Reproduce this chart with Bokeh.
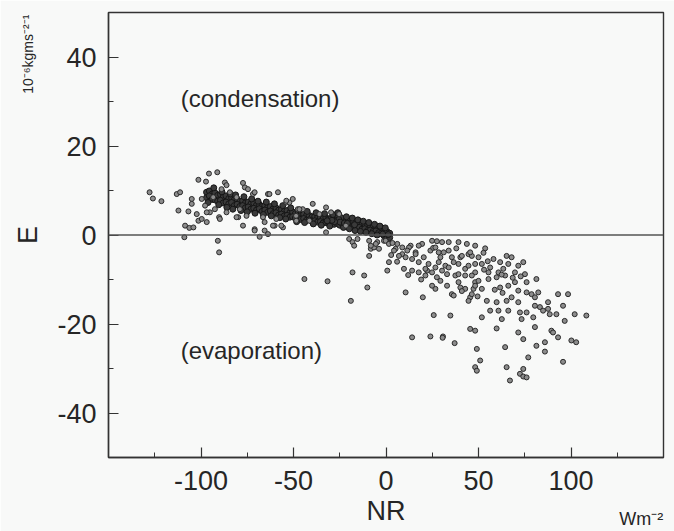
import math
from bokeh.plotting import figure
from bokeh.models import FixedTicker, Span, Label, LinearAxis
from bokeh.embed import file_html
from bokeh.resources import INLINE

# ---- data (NR in W m^-2, E in 10^-6 kg m^-2 s^-1) ----
# dense band of points (x<0), upper and lower edges of the band
nr_band = [-97.0, -95.5, -94.0, -92.5, -91.0, -89.5, -88.0, -86.5, -85.0, -83.5,
           -82.0, -80.5, -79.0, -77.5, -76.0, -74.5, -73.0, -71.5, -70.0, -68.5,
           -67.0, -65.5, -64.0, -62.5, -61.0, -59.5, -58.0, -56.5, -55.0, -53.5,
           -52.0, -50.5, -49.0, -47.5, -46.0, -44.5, -43.0, -41.5, -40.0, -38.5,
           -37.0, -35.5, -34.0, -32.5, -31.0, -29.5, -28.0, -26.5, -25.0, -23.5,
           -22.0, -20.5, -19.0, -17.5, -16.0, -14.5, -13.0, -11.5, -10.0, -8.5,
           -7.0, -5.5, -4.0, -2.5, -1.0, 0.5, 2.0]
e_band_hi = [9.6, 9.9, 9.2, 9.5, 8.9, 9.1, 8.5, 8.8, 8.2, 8.4,
             7.9, 8.1, 7.5, 7.7, 7.2, 7.4, 7.0, 7.2, 6.7, 6.9,
             6.4, 6.6, 6.2, 6.4, 5.9, 6.1, 5.6, 5.8, 5.3, 5.5,
             5.0, 5.2, 4.8, 4.9, 4.5, 4.7, 4.3, 4.4, 4.1, 4.2,
             3.9, 4.0, 3.7, 3.9, 3.6, 3.8, 3.5, 4.2, 3.4, 3.6,
             3.1, 3.3, 2.8, 3.0, 2.6, 2.8, 2.4, 2.5, 2.1, 2.2,
             1.8, 1.9, 1.5, 1.6, 1.2, 0.8, 0.4]
e_band_lo = [8.4, 8.8, 8.0, 7.9, 7.6, 7.8, 7.2, 7.4, 7.0, 7.3,
             6.6, 6.9, 6.4, 6.6, 6.1, 6.3, 5.8, 6.0, 5.6, 5.9,
             5.3, 5.6, 5.1, 5.4, 4.8, 5.0, 4.5, 4.7, 4.3, 4.4,
             4.0, 4.1, 3.8, 3.9, 3.5, 3.7, 3.3, 3.4, 3.1, 3.2,
             2.9, 3.0, 2.7, 2.8, 2.6, 2.7, 2.4, 2.6, 2.2, 2.4,
             2.0, 2.1, 1.8, 1.9, 1.5, 1.7, 1.3, 1.4, 1.0, 1.1,
             0.8, 0.9, 0.5, 0.4, -0.2, -0.5, -0.6]
# irregular points around the band
nr_band2 = [-96.2, -93.1, -90.4, -88.7, -86.0, -84.1, -82.8, -81.3, -78.4, -76.8,
            -75.0, -72.6, -70.8, -69.2, -66.3, -64.7, -62.0, -60.3, -57.4, -55.8,
            -54.2, -51.5, -48.3, -46.7, -44.0, -42.6, -39.3, -37.8, -35.0, -33.2,
            -30.4, -28.7, -27.2, -26.0, -24.3, -23.0, -21.4, -19.8, -18.2, -16.7,
            -15.2, -13.8, -12.3, -10.8, -9.3, -7.7, -6.2, -4.8, -3.3, -1.8,
            -0.4, 1.2, -25.5, -24.8, -27.8, -22.5, -29.2, -31.8, -20.9, -17.0]
e_band2 = [7.3, 10.6, 6.8, 9.7, 6.2, 9.2, 5.8, 9.0, 5.5, 8.6,
           5.2, 8.1, 4.9, 7.6, 4.6, 7.4, 4.3, 7.0, 3.9, 6.6,
           3.6, 6.1, 3.0, 5.6, 2.8, 5.3, 2.5, 5.0, 2.2, 4.8,
           2.0, 4.6, 3.2, 5.0, 3.9, 1.7, 4.1, 1.4, 3.8, 1.0,
           3.4, 0.8, 3.1, 0.6, 2.8, 0.3, 2.4, 0.0, 2.0, 0.2,
           1.6, 0.1, 3.5, 2.9, 3.0, 2.7, 3.3, 3.2, 2.6, 2.3]

# scattered points, negative NR
nr_scatter = [-127.8, -126.0, -121.4, -113.1, -111.3, -112.2, -108.6, -106.3, -109.0, -101.4,
              -95.7, -91.2, -97.3, -90.9, -90.2, -105.0, -105.0, -106.8, -102.3, -101.4,
              -99.6, -96.9, -104.1, -99.6, -97.8, -93.4, -92.5, -90.2, -95.2, -87.1,
              -88.9, -86.2, -84.4, -80.8, -76.3, -77.3, -74.6, -71.9, -79.0, -79.9,
              -77.3, -71.0, -89.8, -86.2, -75.4, -68.3, -63.8, -58.4, -71.0, -63.0,
              -53.9, -52.2, -65.6, -71.0, -60.2, -55.7, -61.1, -65.6, -63.8, -48.6,
              -45.0, -41.4, -36.0, -29.7, -25.3, -21.7, -32.4, -56.6, -48.5, -50.4,
              -47.7, -59.3, -66.5, -80.8, -96.9, -32.4, -46.8, -39.6, -53.9]
e_scatter = [9.6, 8.2, 7.6, 9.2, 9.6, 5.5, 2.1, 1.6, -0.5, 12.4,
             13.8, 14.1, 12.0, -1.3, -3.9, 8.1, 7.0, 5.3, 4.7, 3.2,
             3.6, 2.9, 1.7, 8.1, 6.6, 8.5, 5.8, 4.0, 5.1, 11.8,
             10.3, 11.2, 9.6, 8.5, 10.7, 11.7, 10.3, 9.2, 5.8, 4.0,
             2.1, 1.3, 3.6, 5.1, 4.3, -0.4, 9.2, 9.6, 9.6, 9.2,
             7.3, 7.3, 2.9, 1.0, 2.1, 1.7, 2.1, 1.0, 0.2, 4.3,
             5.8, 3.2, 4.7, 5.1, 4.7, 2.1, 0.6, 2.1, 3.2, 8.1,
             5.8, 3.6, 4.0, 4.0, 5.1, 6.2, 5.8, 7.0, 7.7]

# negative NR, below zero
nr_neg = [-19.9, -18.1, -15.4, -17.2, -9.1, -8.2, -6.5, -4.7, -18.1, -19.0,
          -44.1, -31.6, -11.8, -10.1, -9.1, -8.2, -5.5, -3.8, -1.1, -0.2]
e_neg = [-0.9, -1.6, -0.9, -2.4, -4.7, -3.1, -2.8, -1.6, -8.4, -14.8,
         -9.9, -10.4, -9.1, -11.8, -1.3, -2.4, -2.0, -3.1, -1.3, -1.3]

# positive NR (evaporation side)
nr_pos = [5.2, 8.8, 10.6, 14.1, 16.0, 13.3, 19.5, 24.9, 30.3, 33.9,
          39.2, 43.7, 24.0, 28.5, 33.9, 17.7, 22.2, 24.9, 21.3, 28.5,
          32.1, 36.6, 40.2, 44.6, 29.4, 33.0, 39.2, 42.8, 48.2, 45.5,
          35.6, 26.7, 30.3, 48.2, 42.8, 48.2, 37.5, 1.6, 0.7, 10.6,
          19.9, 25.8, 34.8, 14.1, 24.0, 30.8, 48.2, 4.3, 7.0, 14.1,
          9.7, 12.4, 20.4, 24.9, 36.6, 40.2, 46.4, 33.9, 39.2, 41.0,
          27.5, 25.5, 31.2, 35.6, 29.4, 26.7, 11.5, 17.7, 39.2, 42.8,
          47.3, 33.0, 26.7, 21.3, 17.7, 6.1, 8.8, 1.6, 44.6, 16.0,
          53.6, 46.4, 44.6, 51.8, 56.3, 61.7, 65.2, 67.9, 63.4, 69.7,
          75.1, 81.3, 46.4, 50.0, 55.4, 59.8, 61.7, 66.1, 69.7, 71.5,
          76.0, 78.7, 82.3, 93.0, 98.4, 49.5, 54.5, 59.8, 65.2, 60.8,
          66.1, 72.4, 73.3, 62.6, 80.5, 83.2, 87.6, 92.1, 95.7, 102.0,
          108.3, 96.6, 51.8, 59.8, 71.5, 74.2, 80.5, 89.4, 93.0, 100.2,
          102.8, 81.3, 85.9, 49.1, 64.4, 76.9, 85.9, 95.7, 50.9, 48.2,
          49.1, 65.2, 74.2, 72.4, 74.2, 76.0, 67.0, 45.5, 67.9, 71.5,
          56.3, 76.0, 79.6, 88.5, 84.9, 48.2, 45.5, 50.0, 58.1, 60.8,
          55.4, 66.1, 71.5, 74.2, 64.4, 48.2, 51.8, 76.0, 80.5, 87.6,
          30.6, 37.1, 90.3, 52.7, 55.0, 62.5, 53.0, 58.8, 63.0, 68.5,
          72.8, 23.0, 38.0, 19.0, 12.0, 3.5, 2.8, 6.0, 41.0, 27.5]
e_pos = [-3.1, -4.3, -5.0, -5.4, -3.9, -2.4, -2.0, -1.3, -1.6, -1.6,
         -1.6, -2.0, -3.5, -3.9, -3.5, -6.1, -8.0, -8.4, -9.1, -6.1,
         -6.9, -6.1, -5.0, -4.3, -10.3, -11.4, -10.6, -12.1, -10.6, -14.0,
         -13.3, -12.1, -8.0, -8.4, -7.6, -6.5, -9.1, -6.1, -8.0, -12.9,
         -14.0, -18.0, -18.1, -23.0, -22.8, -22.8, -21.5, -3.5, -4.7, -8.0,
         -7.6, -2.8, -5.0, -11.4, -13.6, -11.8, -13.3, -7.3, -6.5, -4.7,
         -1.4, -2.9, -3.9, -5.0, -5.0, -2.8, -3.5, -2.4, -8.8, -9.1,
         -12.1, -8.8, -7.3, -7.6, -8.4, -2.0, -2.8, -2.0, -14.8, -4.3,
         -3.0, -4.7, -6.9, -6.5, -7.3, -6.1, -4.7, -5.0, -7.6, -8.4,
         -8.8, -9.9, -9.1, -10.3, -9.9, -9.5, -11.8, -11.4, -10.6, -12.5,
         -12.9, -13.3, -12.9, -13.3, -13.3, -13.8, -14.8, -15.1, -14.8, -17.0,
         -17.0, -17.4, -18.9, -18.9, -15.9, -16.2, -16.6, -17.8, -15.9, -17.8,
         -18.1, -19.3, -18.5, -21.0, -21.9, -23.4, -20.7, -21.5, -23.0, -23.7,
         -24.1, -24.9, -24.1, -25.6, -25.2, -27.5, -26.2, -28.5, -28.2, -29.7,
         -30.5, -29.7, -30.1, -31.2, -31.8, -32.0, -32.7, -21.1, -14.0, -15.1,
         -17.0, -17.4, -18.5, -17.8, -17.0, -2.4, -3.9, -5.0, -5.4, -8.4,
         -8.4, -6.5, -6.9, -6.1, -9.1, -11.4, -12.1, -10.6, -14.0, -15.1,
         -23.1, -24.3, -21.9, -4.0, -5.9, -8.9, -7.8, -12.3, -13.0, -9.6,
         -9.3, -6.5, -3.0, -10.0, -9.0, -1.8, -4.5, -6.0, -12.6, -9.5]

x_ticks = [-100, -50, 0, 50, 100]
x_minor = [-150, -125, -75, -25, 25, 75, 125, 150]
y_ticks = [-40, -20, 0, 20, 40]
y_minor = [-50, -30, -10, 10, 30, 50]
x_unit = "Wm\u207b\u00b2"
y_unit = "10\u207b\u2076kgms\u207b\u00b2\u207b\u00b9"

BG = "#f8f9f8"
INK = "#262626"
FONT = "Liberation Sans"

p = figure(width=674, height=531, x_range=(-150, 150), y_range=(-50, 50),
           output_backend="svg", toolbar_location=None,
           min_border_left=108, min_border_right=11, min_border_top=12, min_border_bottom=74,
           background_fill_color=BG, border_fill_color=BG)
p.xgrid.visible = False
p.ygrid.visible = False
p.outline_line_color = "#333333"
p.outline_line_width = 1.4

p.xaxis.ticker = FixedTicker(ticks=x_ticks, minor_ticks=x_minor)
p.yaxis.ticker = FixedTicker(ticks=y_ticks, minor_ticks=y_minor)
p.xaxis.major_label_overrides = {t: str(t) for t in x_ticks}
p.yaxis.major_label_overrides = {t: str(t) for t in y_ticks}
for ax in (p.xaxis[0], p.yaxis[0]):
    ax.major_tick_in = 10
    ax.major_tick_out = 0
    ax.minor_tick_in = 5
    ax.minor_tick_out = 0
    ax.axis_line_color = "#333333"
    ax.axis_line_width = 1.4
    ax.major_tick_line_color = "#333333"
    ax.minor_tick_line_color = "#333333"
    ax.major_tick_line_width = 1.2
    ax.minor_tick_line_width = 1.0
    ax.major_label_text_font = FONT
    ax.major_label_text_font_size = "27px"
    ax.major_label_text_color = INK
p.xaxis.major_label_standoff = 13
p.yaxis.major_label_standoff = 12


def unit_axis(ticks, text, size, standoff, title, title_standoff):
    ax = LinearAxis(ticker=FixedTicker(ticks=ticks, minor_ticks=[]),
                    major_label_overrides={ticks[0]: text})
    ax.axis_line_color = None
    ax.major_tick_line_color = None
    ax.minor_tick_line_color = None
    ax.major_tick_in = 0
    ax.major_tick_out = 0
    ax.minor_tick_in = 0
    ax.minor_tick_out = 0
    ax.major_label_text_font = FONT
    ax.major_label_text_font_size = size
    ax.major_label_text_color = INK
    ax.major_label_standoff = standoff
    ax.axis_label = title
    ax.axis_label_text_font = FONT
    ax.axis_label_text_font_size = "27px"
    ax.axis_label_text_font_style = "normal"
    ax.axis_label_text_color = INK
    ax.axis_label_standoff = title_standoff
    return ax


# left: unit text (rotated tick label) and the axis title "E" in the same column
yunit = unit_axis([49.5], y_unit, "14px", 26, "E", -33)
yunit.major_label_orientation = math.pi / 2
p.add_layout(yunit, "left")

# bottom: unit text and the axis title "NR" on one row
xunit = unit_axis([138], x_unit, "18px", 16, "NR", -36)
p.add_layout(xunit, "below")

p.add_layout(Span(location=0, dimension="width", line_color="#555555", line_width=1.4))

band_style = dict(size=6.0, fill_color="#3a3a3a", line_color="#151515", line_width=1.0)
dot_style = dict(size=5.0, fill_color="#8c8c8c", line_color="#2a2a2a", line_width=1.0)
p.scatter(nr_band, e_band_hi, **band_style)
p.scatter(nr_band, e_band_lo, **band_style)
p.scatter(nr_band2, e_band2, **band_style)
p.scatter(nr_scatter, e_scatter, **dot_style)
p.scatter(nr_neg, e_neg, **dot_style)
p.scatter(nr_pos, e_pos, **dot_style)

p.add_layout(Label(x=-111, y=30.6, text="(condensation)", text_font=FONT,
                   text_font_size="24px", text_color=INK, text_align="left",
                   text_baseline="middle"))
p.add_layout(Label(x=-111, y=-26, text="(evaporation)", text_font=FONT,
                   text_font_size="24px", text_color=INK, text_align="left",
                   text_baseline="middle"))

open("out.html", "w").write(file_html(p, INLINE))
